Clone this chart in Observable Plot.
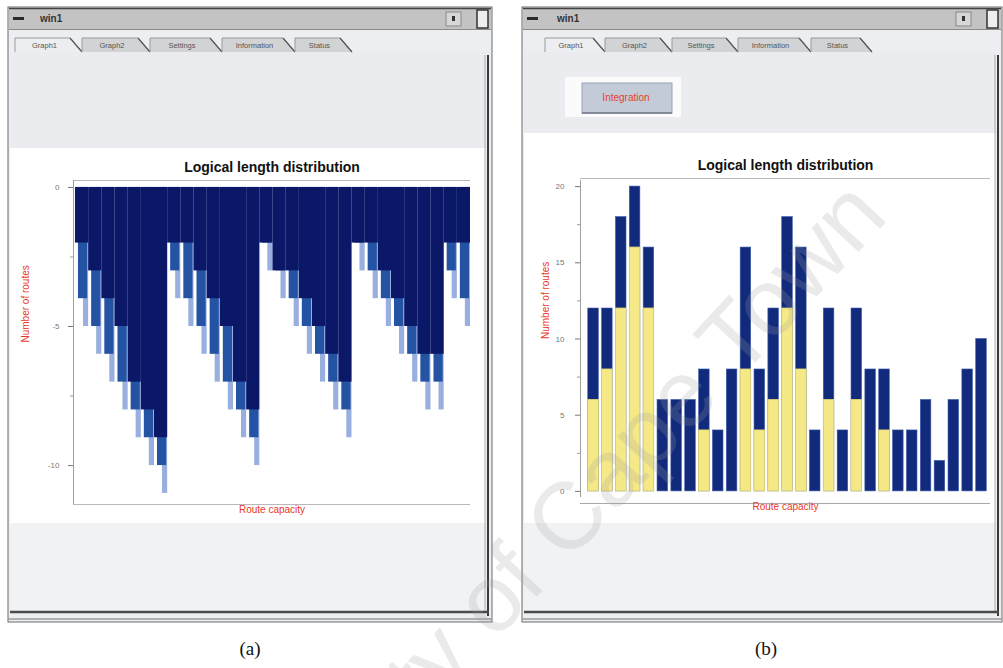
<!DOCTYPE html>
<html>
<head>
<meta charset="utf-8">
<script src="https://cdn.jsdelivr.net/npm/d3@7"></script>
<script src="https://cdn.jsdelivr.net/npm/@observablehq/plot@0.6"></script>
<style>
  html, body { margin: 0; padding: 0; background: #fff; }
  body { width: 1003px; height: 668px; overflow: hidden; font-family: "Liberation Sans", Arial, sans-serif; }
  #stage { position: relative; width: 1003px; height: 668px; }
  #chrome, #mark { position: absolute; left: 0; top: 0; }
  #mark { pointer-events: none; }
  .chart { position: absolute; }
  .cap { position: absolute; top: 638px; font-family: "Liberation Serif", "DejaVu Serif", serif; font-size: 19px; color: #111; transform: translateX(-50%); }
</style>
</head>
<body>
<div id="stage">
  <svg id="chrome" width="1003" height="668"></svg>
  <div id="chartA" class="chart" style="left:10px; top:148px;"></div>
  <div id="chartB" class="chart" style="left:525px; top:135px;"></div>
  <svg id="mark" width="1003" height="668"></svg>
  <div class="cap" style="left:250px;">(a)</div>
  <div class="cap" style="left:766px;">(b)</div>
</div>
<script>
// ---------- data ----------
// panel (a): depth of each column (three tones: dark body, medium step, light tip)
const leftTip  = [5, 6, 7, 8, 9, 10, 11,  4, 5, 6, 7, 8, 9, 10,  3, 4, 5, 6, 7, 8, 9,  3, 4, 5, 6, 7, 8, 8,  4, 5];
const leftMid  = [4, 5, 6, 7, 8, 9, 10,   3, 4, 5, 6, 7, 8, 9,   2, 3, 4, 5, 6, 7, 8,  2, 3, 4, 5, 6, 7, 7,  3, 4];
const leftDark = [2, 3, 4, 5, 7, 8, 9,    2, 2, 3, 4, 5, 7, 8,   2, 3, 3, 4, 5, 6, 7,  2, 2, 3, 4, 5, 6, 6,  2, 2];
const leftTicks = [0, -5, -10];
const leftMinor = [-2.5, -7.5];

// panel (b): stacked bars, total height and yellow (lower) part
const rightTotal  = [12, 12, 18, 20, 16, 6, 6, 6, 8, 4, 8, 16, 8, 12, 18, 16, 4, 12, 4, 12, 8, 8, 4, 4, 6, 2, 6, 8, 10];
const rightYellow = [6,  8,  12, 16, 12, 0, 0, 0, 4, 0, 0, 8,  4, 6,  12, 8,  0, 6,  0, 6,  0, 4, 0, 0, 0, 0, 0, 0, 0];
const rightTicks = [0, 5, 10, 15, 20];
const rightMinor = [2.5, 7.5, 12.5, 17.5];

const chartTitle = "Logical length distribution";
const xLabel = "Route capacity";
const yLabel = "Number of routes";
const winTitle = "win1";
const tabNames = ["Graph1", "Graph2", "Settings", "Information", "Status"];
const buttonLabel = "Integration";
const watermark = "University of Cape Town";

// ---------- window chrome ----------
const NS = "http://www.w3.org/2000/svg";
const chrome = document.getElementById("chrome");
function el(tag, attrs, parent, text) {
  const e = document.createElementNS(NS, tag);
  for (const k in attrs) e.setAttribute(k, attrs[k]);
  if (text != null) e.textContent = text;
  (parent || chrome).appendChild(e);
  return e;
}
function windowFrame(x0, w, tabEdges, chartTop, opts) {
  el("rect", {x: x0, y: 7, width: w, height: 615, fill: "#eceef1", stroke: "#6a6a6a", "stroke-width": 1});
  // title bar
  el("rect", {x: x0 + 1, y: 8, width: w - 2, height: 21, fill: "#c3c3c3"});
  el("line", {x1: x0 + 1, x2: x0 + w - 1, y1: 8.5, y2: 8.5, stroke: "#444", "stroke-width": 1.5});
  el("line", {x1: x0 + 1, x2: x0 + w - 1, y1: 29.5, y2: 29.5, stroke: "#8a8a8a"});
  el("rect", {x: x0 + 5, y: 17, width: 11, height: 3, fill: "#2a2a2a"});
  el("text", {x: opts.titleX, y: 22, "font-size": 10, "font-weight": "bold", fill: "#333", "font-family": "Liberation Sans, Arial"}, null, winTitle);
  el("rect", {x: x0 + w - 46, y: 12, width: 15, height: 14, fill: "#d6d6d6", stroke: "#888"});
  el("rect", {x: x0 + w - 40, y: 16, width: 3, height: 5, fill: "#333"});
  el("rect", {x: x0 + w - 15, y: 10, width: 11, height: 18, fill: "#eee", stroke: "#333", "stroke-width": 1.5});
  // content bands
  el("rect", {x: x0 + 2, y: 52, width: w - 8, height: chartTop - 52, fill: "#eaecef"});
  el("rect", {x: x0 + 2, y: chartTop, width: w - 8, height: 523 - chartTop, fill: "#ffffff"});
  el("rect", {x: x0 + 2, y: 523, width: w - 8, height: 88, fill: "#f1f2f4"});
  // tabs
  for (let i = 0; i < tabNames.length; i++) {
    const a = tabEdges[i], b = tabEdges[i + 1];
    el("path", {d: `M${a},52 L${a},38 L${b - 12},38 L${b},52`, fill: i === 0 ? "#eceef1" : "#d2d3d5", stroke: "#9a9a9a", "stroke-width": 1});
    el("line", {x1: b - 12, y1: 38, x2: b, y2: 52, stroke: "#555", "stroke-width": 1.2});
    el("text", {x: (a + b - 8) / 2, y: 48, "text-anchor": "middle", "font-size": 7.5, fill: "#555", "font-family": "Liberation Sans, Arial"}, null, tabNames[i]);
  }
  // right edge scroll line and bottom border
  el("line", {x1: x0 + w - 4, x2: x0 + w - 4, y1: 55, y2: 616, stroke: "#3a3a3a", "stroke-width": 2});
  el("line", {x1: x0 + w - 7, x2: x0 + w - 7, y1: 55, y2: 612, stroke: "#aaa", "stroke-width": 1});
  el("line", {x1: x0 + 2, x2: x0 + w - 3, y1: 612, y2: 612, stroke: "#4a4a4a", "stroke-width": 2.5});
  el("line", {x1: x0, x2: x0 + w, y1: 619, y2: 619, stroke: "#9a9a9a", "stroke-width": 1.5});
}
windowFrame(8, 484, [15, 82, 150, 222, 295, 352], 148, {titleX: 40});
windowFrame(522, 480, [545, 605, 672, 738, 811, 872], 133, {titleX: 557});
// integration button (panel b)
el("rect", {x: 565, y: 77, width: 116, height: 40, fill: "#fbfbfb"});
el("rect", {x: 582, y: 83, width: 90, height: 30, fill: "#c4cbd8", stroke: "#9aa3b3"});
el("line", {x1: 582, x2: 672, y1: 113, y2: 113, stroke: "#6f7888", "stroke-width": 1.5});
el("text", {x: 626, y: 101, "text-anchor": "middle", "font-size": 10, fill: "#e3442a", "font-family": "Liberation Sans, Arial"}, null, buttonLabel);

// ---------- charts ----------
const baseStyle = {fontFamily: "Liberation Sans, Arial, sans-serif", fontSize: "8px", background: "transparent", color: "#666", overflow: "visible"};
const red = "#e8391f";

const leftRows = leftTip.map((d, i) => ({x1: i, x2: i + 1, tip: -d, mid: -leftMid[i], dark: -leftDark[i]}));

const chartA = Plot.plot({
  width: 476, height: 377,
  marginLeft: 63, marginRight: 16, marginTop: 32, marginBottom: 21,
  style: baseStyle,
  x: {domain: [-0.15, 30], axis: null},
  y: {domain: [-11.4, 0.25]},
  marks: [
    Plot.ruleY([0.25], {stroke: "#b8b8b8"}),
    Plot.ruleY([-11.4], {stroke: "#b8b8b8"}),
    Plot.rectY(leftRows, {x1: "x1", x2: "x2", y1: 0, y2: "tip", fill: "#98afe0", insetLeft: 8}),
    Plot.rectY(leftRows, {x1: "x1", x2: "x2", y1: 0, y2: "mid", fill: "#2553a4", insetLeft: 3, insetRight: 1}),
    Plot.rectY(leftRows, {x1: "x1", x2: "x2", y1: 0, y2: "dark", fill: "#0b1868"}),
    Plot.ruleX([-0.15], {stroke: "#a0a0a0"}),
    Plot.axisY({ticks: leftTicks, tickFormat: d => String(d), tickSize: 5, tickPadding: 9, color: "#777", fontSize: 8, label: null}),
    Plot.axisY({ticks: leftMinor, tickFormat: () => "", tickSize: 3, color: "#999", label: null}),
    Plot.text([chartTitle], {frameAnchor: "top", dy: -18, fontSize: 14, fontWeight: "bold", fill: "#111"}),
    Plot.text([xLabel], {frameAnchor: "bottom", dy: 8, fontSize: 10, fill: red}),
    Plot.text([yLabel], {frameAnchor: "left", dx: -48, rotate: -90, fontSize: 10, fill: red})
  ]
});
document.getElementById("chartA").appendChild(chartA);

const rightRows = rightTotal.map((t, i) => ({x1: i - 0.38, x2: i + 0.38, total: t, yellow: rightYellow[i]}));

const chartB = Plot.plot({
  width: 470, height: 390,
  marginLeft: 55, marginRight: 5, marginTop: 45, marginBottom: 28,
  style: baseStyle,
  x: {domain: [-0.94, 28.65], axis: null},
  y: {domain: [-0.4, 20.4]},
  marks: [
    Plot.ruleY([20.4], {stroke: "#b8b8b8", dy: -2}),
    Plot.ruleY([-0.4], {stroke: "#a8a8a8", dy: 6}),
    Plot.rectY(rightRows, {x1: "x1", x2: "x2", y1: 0, y2: "total", fill: "#112a7b", stroke: "#3a5aa8", strokeWidth: 0.6}),
    Plot.rectY(rightRows.filter(d => d.yellow > 0), {x1: "x1", x2: "x2", y1: 0, y2: "yellow", fill: "#f5e886", stroke: "#e2d676", strokeWidth: 0.8}),
    Plot.ruleX([-0.94], {stroke: "#a0a0a0"}),
    Plot.axisY({ticks: rightTicks, tickFormat: d => String(d), tickSize: 5, tickPadding: 11, color: "#777", fontSize: 8, label: null}),
    Plot.axisY({ticks: rightMinor, tickFormat: () => "", tickSize: 3, color: "#999", label: null}),
    Plot.text([chartTitle], {frameAnchor: "top", dy: -20, fontSize: 14, fontWeight: "bold", fill: "#111"}),
    Plot.text([xLabel], {frameAnchor: "bottom", dy: 12, fontSize: 10, fill: red}),
    Plot.text([yLabel], {frameAnchor: "left", dx: -35, rotate: -90, fontSize: 10, fill: red})
  ]
});
document.getElementById("chartB").appendChild(chartB);

// ---------- watermark ----------
const mark = document.getElementById("mark");
const wm = document.createElementNS(NS, "text");
wm.setAttribute("x", 890);
wm.setAttribute("y", 218);
wm.setAttribute("text-anchor", "end");
wm.setAttribute("font-size", 95);
wm.setAttribute("font-family", "Liberation Sans, Arial, sans-serif");
wm.setAttribute("fill", "rgba(160,160,160,0.22)");
wm.setAttribute("transform", "rotate(-47 890 218)");
wm.textContent = watermark;
mark.appendChild(wm);
</script>
</body>
</html>
